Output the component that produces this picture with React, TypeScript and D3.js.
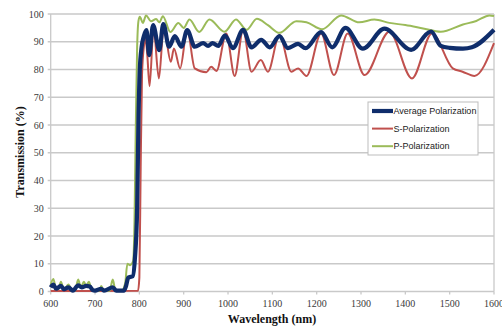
import * as d3 from "d3";

// wavelength (nm) / transmission (%)
const avgWl = [600, 606, 612, 623, 630, 640, 650, 662, 670, 680, 688, 695, 700, 714, 720, 740, 748, 765, 770, 775, 785, 790, 795, 798, 801, 805, 810, 816, 822, 831, 845, 854, 867, 880, 895, 908, 925, 944, 955, 965, 978, 993, 1011, 1034, 1053, 1075, 1094, 1116, 1135, 1158, 1175, 1210, 1235, 1265, 1304, 1353, 1413, 1458, 1480, 1500, 1530, 1550, 1600];
const avgT = [1.5, 2.5, 1, 2, 0.8, 1.5, 0.3, 2.2, 1.5, 2, 1.8, 0.5, 0.3, 1, 0.3, 1.5, 0.3, 0.3, 2, 5, 5.5, 12, 30, 62, 80, 88, 92, 94.2, 85.2, 96, 87, 96.4, 88.2, 92, 88.2, 94.2, 88.2, 89.5, 88.5, 89.5, 88.5, 92.3, 87.7, 94.3, 88, 90.7, 88, 92, 87.7, 89.2, 87.7, 93.5, 88, 95, 87.5, 94.7, 87.1, 93.7, 88.5, 87.8, 87.5, 88, 94.3];

const sWl = [600, 700, 797, 800, 803, 806, 810, 814, 818, 823, 832, 844, 855, 871, 878, 892, 908, 925, 951, 962, 974, 996, 1015, 1034, 1053, 1074, 1090, 1116, 1143, 1158, 1177, 1210, 1239, 1270, 1308, 1364, 1415, 1460, 1507, 1529, 1556, 1600];
const sT = [0.2, 0.2, 0.3, 5, 45, 78, 88, 91, 85, 74, 94.8, 76.8, 95.2, 82.8, 87.6, 80.4, 94.2, 80.4, 79, 81, 79.5, 93, 77.7, 94.2, 79.2, 83.4, 79.2, 92.4, 79.2, 80.4, 77.7, 93, 78, 93, 78, 93.6, 76.8, 93, 80.4, 79.2, 77.7, 89.5];

const pWl = [600, 606, 612, 617, 623, 630, 640, 648, 655, 662, 668, 675, 680, 686, 692, 700, 710, 714, 720, 733, 740, 746, 760, 768, 773, 779, 786, 789, 792, 795, 798, 801, 808, 815, 826, 838, 845, 853, 870, 888, 900, 913, 935, 958, 992, 1018, 1042, 1065, 1090, 1116, 1154, 1177, 1212, 1255, 1296, 1330, 1364, 1400, 1440, 1480, 1530, 1560, 1590, 1600];
const pT = [2.5, 4.5, 1, 0.8, 3.5, 0.5, 2.5, 0.3, 0.3, 4.3, 1.5, 3.5, 2, 3.5, 1, 0.3, 0.3, 2, 0.3, 0.3, 4.3, 0.5, 0.3, 3, 10, 9.5, 11, 25, 60, 88, 97.5, 99, 96.8, 99.5, 97.4, 98.2, 97, 99.2, 93.5, 96.8, 95, 98, 93.5, 98, 93.6, 98, 94.3, 98.3, 96, 93.2, 97.4, 97, 94.5, 99.5, 97, 98, 96.8, 96, 94.8, 93.6, 96.2, 97.5, 99.5, 99.3];

const xTicks = [600, 700, 800, 900, 1000, 1100, 1200, 1300, 1400, 1500, 1600];
const yTicks = [0, 10, 20, 30, 40, 50, 60, 70, 80, 90, 100];

const series = [
  { name: "Average Polarization", wl: avgWl, t: avgT, color: "#0f2d6b", width: 4.2 },
  { name: "S-Polarization", wl: sWl, t: sT, color: "#c0504d", width: 2 },
  { name: "P-Polarization", wl: pWl, t: pT, color: "#9bbb59", width: 2 },
];
const drawOrder = [1, 2, 0];

export default function App() {
  const W = 502;
  const H = 329;
  const m = { top: 14, right: 8, bottom: 37.5, left: 50.7 };
  const x = d3.scaleLinear().domain([600, 1600]).range([m.left, W - m.right]);
  const y = d3.scaleLinear().domain([0, 100]).range([H - m.bottom, m.top]);
  const grid = "#c9c9c9";
  const serif = "'Liberation Serif', 'Times New Roman', serif";

  const lineFor = (s: (typeof series)[number]) =>
    d3
      .line<number>()
      .x((_, i) => x(s.wl[i]))
      .y((v) => y(v))
      .curve(d3.curveMonotoneX)(s.t) ?? "";

  const lg = { x: 368, y: 102, w: 110, h: 53 };

  return (
    <div style={{ position: "absolute", left: 0, top: 0 }}>
      <svg width={W} height={H} style={{ display: "block", background: "#fff" }}>
        {yTicks.map((t) => (
          <g key={t}>
            <line x1={x(600) - 3} x2={x(1600)} y1={y(t)} y2={y(t)} stroke={grid} strokeWidth={1.3} />
            <text
              x={m.left - 7}
              y={y(t) + 3.5}
              textAnchor="end"
              fontFamily={serif}
              fontSize={10}
              fill="#3a3a3a"
            >
              {t}
            </text>
          </g>
        ))}
        <line x1={x(600)} x2={x(600)} y1={y(100)} y2={y(0)} stroke={grid} strokeWidth={1.3} />
        <line x1={x(1600)} x2={x(1600)} y1={y(100)} y2={y(0)} stroke={grid} strokeWidth={1.3} />
        {xTicks.map((t) => (
          <g key={t}>
            <line x1={x(t)} x2={x(t)} y1={y(0)} y2={y(0) + 3} stroke={grid} strokeWidth={1.3} />
            <text
              x={x(t)}
              y={y(0) + 15}
              textAnchor="middle"
              fontFamily={serif}
              fontSize={10}
              fill="#3a3a3a"
            >
              {t}
            </text>
          </g>
        ))}

        {drawOrder.map((i) => (
          <path
            key={series[i].name}
            d={lineFor(series[i])}
            fill="none"
            stroke={series[i].color}
            strokeWidth={series[i].width}
            strokeLinejoin="round"
          />
        ))}

        <text
          x={272}
          y={322.5}
          textAnchor="middle"
          fontFamily={serif}
          fontWeight="bold"
          fontSize={12}
          fill="#111"
        >
          Wavelength (nm)
        </text>
        <text
          transform="translate(24,152) rotate(-90)"
          textAnchor="middle"
          fontFamily={serif}
          fontWeight="bold"
          fontSize={12}
          fill="#111"
        >
          Transmission (%)
        </text>

        <rect x={lg.x} y={lg.y} width={lg.w} height={lg.h} fill="#fff" stroke="#bdbdbd" strokeWidth={1} />
        {series.map((s, i) => {
          const ly = lg.y + 9 + i * 17.6;
          return (
            <g key={s.name}>
              <line x1={lg.x + 4} x2={lg.x + 25} y1={ly} y2={ly} stroke={s.color} strokeWidth={s.width} />
              <text
                x={lg.x + 25.5}
                y={ly + 3.2}
                fontFamily="'Liberation Sans', Arial, sans-serif"
                fontSize={9}
                fill="#222"
              >
                {s.name}
              </text>
            </g>
          );
        })}
      </svg>
    </div>
  );
}
